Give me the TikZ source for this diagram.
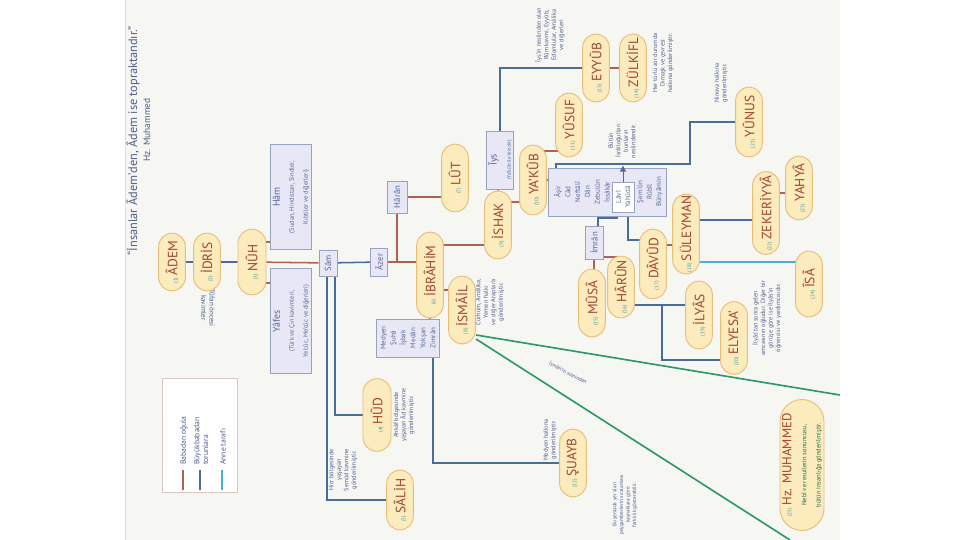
\documentclass[tikz,border=0pt]{standalone}
\usepackage{fontspec}
\setmainfont{PT Sans}
\usetikzlibrary{calc,shapes.misc,arrows.meta}

\definecolor{kagitrenk}{HTML}{F6F6F3}
\definecolor{pillic}{HTML}{FCEBBC}
\definecolor{pillkenar}{HTML}{E9BE78}
\definecolor{isimrenk}{HTML}{A0432F}
\definecolor{numrenk}{HTML}{3A9CA0}
\definecolor{kutuic}{HTML}{E7E7F5}
\definecolor{kutukenar}{HTML}{97A1C0}
\definecolor{kutuyazi}{HTML}{5A6A9C}
\definecolor{notyazi}{HTML}{4D5D8C}
\definecolor{ogulrenk}{HTML}{B0614F}
\definecolor{torunrenk}{HTML}{4A6D98}
\definecolor{annerenk}{HTML}{45B2CE}
\definecolor{kamarenk}{HTML}{2F9868}
\definecolor{lejantkenar}{HTML}{D9C6C3}

\pgfdeclarelayer{kagit}
\pgfdeclarelayer{hatlar}
\pgfsetlayers{kagit,hatlar,main}

% peygamber sira numarasi
\newcommand{\pno}[1]{{\fontsize{4.5}{5}\selectfont\color{numrenk}(#1)}\hspace{2pt}}
\newcommand{\kucuk}{\fontsize{5.5}{6.6}\selectfont}
\newcommand{\orta}{\fontsize{8.5}{10}\selectfont}

\tikzset{
  peygamber/.style={rounded rectangle, draw=pillkenar, fill=pillic, line width=0.8pt,
    rotate=90, text=isimrenk, font=\fontsize{11.5}{12}\selectfont,
    minimum height=0.8cm, inner sep=1pt},
  boy/.style={minimum width=#1*0.03cm},
  kutu/.style={draw=kutukenar, fill=kutuic, line width=0.6pt, text=kutuyazi,
    align=center, inner sep=1.5pt},
  kavim/.style={kutu, rotate=90},
  notmetni/.style={text=notyazi, align=center, font=\fontsize{5.3}{6.4}\selectfont, inner sep=0pt},
  aciklama/.style={notmetni, rotate=90},
  oglu/.style={draw=ogulrenk, line width=1.3pt},
  torun/.style={draw=torunrenk, line width=1.3pt},
  anne/.style={draw=annerenk, line width=1.3pt},
  kama/.style={draw=kamarenk, line width=1.4pt}
}

\begin{document}
\begin{tikzpicture}[x=0.03cm, y=-0.03cm]
  \useasboundingbox (0,0) rectangle (960,540);

  % kagit zemini
  \begin{pgfonlayer}{kagit}
    \fill[kagitrenk] (125,0) rectangle (840,540);
    \draw[gray!25] (125,0) -- (125,540);
  \end{pgfonlayer}

  % baslik ve lejant
  \node[aciklama, font=\fontsize{10.5}{12}\selectfont] (baslik) at (133,141)
    {“İnsanlar Âdem'den, Âdem ise topraktandır.”};
  \node[aciklama, font=\fontsize{8}{10}\selectfont] (kaynak) at (147,130) {Hz. Muhammed};
  \node[notmetni, rotate=-90, font=\fontsize{6}{7}\selectfont] (tufan) at (208,308)
    {Tûfan öncesi\\kavimler};

  \node[draw=lejantkenar, fill=white, line width=0.6pt,
    minimum width=75*0.03cm, minimum height=114*0.03cm] (lejant) at (200,435) {};
  \draw[oglu] ($(lejant.south west)+(21,-22)$) -- ++(0,20);
  \draw[torun] ($(lejant.south west)+(38,-22)$) -- ++(0,20);
  \draw[anne] ($(lejant.south west)+(60,-22)$) -- ++(0,20);
  \node[aciklama, font=\fontsize{6.5}{7.5}\selectfont, anchor=west, align=left] (lejBaba) at (184,465) {Babadan oğula};
  \node[aciklama, font=\fontsize{6.5}{7.5}\selectfont, anchor=west, align=left] (lejTorun) at (201,465) {Büyükbabadan\\torunlara};
  \node[aciklama, font=\fontsize{6.5}{7.5}\selectfont, anchor=west, align=left] (lejAnne) at (223,465) {Anne tarafı};

  % peygamberler
  \node[peygamber, boy=60] (ADEM) at (172,262) {\pno{1}ÂDEM};
  \node[peygamber, boy=60] (IDRIS) at (207,262) {\pno{2}İDRİS};
  \node[peygamber, boy=68, minimum height=0.84cm] (NUH) at (252,262) {\pno{3}NÛH};
  \node[peygamber, boy=75, minimum height=0.84cm] (HUD) at (377,415) {\pno{4}HÛD};
  \node[peygamber, boy=62] (SALIH) at (400,500) {\pno{5}SÂLİH};
  \node[peygamber, boy=88] (IBRAHIM) at (430,275) {\pno{6}İBRÂHİM};
  \node[peygamber, boy=70] (LUT) at (455,178) {\pno{7}LÛT};
  \node[peygamber, boy=70] (ISMAIL) at (462,310) {\pno{8}İSMÂİL};
  \node[peygamber, boy=70] (ISHAK) at (498,225) {\pno{9}İSHAK};
  \node[peygamber, boy=72] (YAKUB) at (533,180) {\pno{10}YA'KÛB};
  \node[peygamber, boy=66] (YUSUF) at (569,125) {\pno{11}YÛSUF};
  \node[peygamber, boy=70] (SUAYB) at (573,463) {\pno{12}ŞUAYB};
  \node[peygamber, boy=70] (EYYUB) at (596,68) {\pno{13}EYYÛB};
  \node[peygamber, boy=70] (ZULKIFL) at (633,68) {\pno{14}ZÜLKİFL};
  \node[peygamber, boy=70] (MUSA) at (592,303) {\pno{15}MÛSÂ};
  \node[peygamber, boy=64] (HARUN) at (621,287) {\pno{16}HÂRÛN};
  \node[peygamber, boy=72] (DAVUD) at (653,264) {\pno{17}DÂVÛD};
  \node[peygamber, boy=82] (SULEYMAN) at (686,234) {\pno{18}SÜLEYMAN};
  \node[peygamber, boy=70] (ILYAS) at (699,315) {\pno{19}İLYÂS};
  \node[peygamber, boy=75] (ELYESA) at (734,338) {\pno{20}ELYESA'};
  \node[peygamber, boy=72] (YUNUS) at (749,122) {\pno{21}YÛNUS};
  \node[peygamber, boy=85] (ZEKERIYYA) at (766,213) {\pno{22}ZEKERİYYÂ};
  \node[peygamber, boy=66] (YAHYA) at (799,188) {\pno{23}YAHYÂ};
  \node[peygamber, boy=68] (ISA) at (809,284) {\pno{24}ÎSÂ};
  \node[peygamber, boy=112, minimum height=1.32cm, align=center] (MUHAMMED) at (802,465)
    {\pno{25}{\fontsize{11}{12}\selectfont Hz. MUHAMMED}\\[1pt]
     {\color{kamarenk!70!black}\kucuk Nebî ve resullerin sonuncusu,}\\
     {\color{kamarenk!70!black}\kucuk bütün insanlığa gönderilmiştir.}};

  % kavimler ve atalar
  \node[kavim, minimum width=105*0.03cm, minimum height=37*0.03cm] (HAM) at (291,197)
    {{\orta Hâm}\\{\kucuk (Sudan, Hindistan, Sindler,}\\{\kucuk Kıbtiler ve diğerleri)}};
  \node[kavim, minimum width=105*0.03cm, minimum height=37*0.03cm] (YAFES) at (291,321)
    {{\orta Yâfes}\\{\kucuk (Türk ve Çin kavimleri,}\\{\kucuk Ye'cûc, Me'cûc ve diğerleri)}};
  \node[kavim, minimum width=26*0.03cm, minimum height=18*0.03cm, font=\fontsize{7.5}{8}\selectfont] (SAM) at (328,263) {Sâm};
  \node[kavim, minimum width=28*0.03cm, minimum height=17*0.03cm, font=\fontsize{7.5}{8}\selectfont] (AZER) at (379,262) {Âzer};
  \node[kavim, minimum width=32*0.03cm, minimum height=20*0.03cm, font=\fontsize{7.5}{8}\selectfont] (HARAN) at (397,197) {Hârân};
  \node[kavim, minimum width=38*0.03cm, minimum height=63*0.03cm, font=\fontsize{6}{8.5}\selectfont] (MEDYEN) at (408,338)
    {Medyen\\Şuhâ\\İşbak\\Medân\\Yokşan\\Zimrân};
  \node[kavim, minimum width=58*0.03cm, minimum height=25*0.03cm] (IYS) at (500,160)
    {{\orta Îys}\\{\fontsize{4.5}{5}\selectfont (Ya'kûb ile ikizdir)}};
  \node[kavim, minimum width=33*0.03cm, minimum height=18*0.03cm, font=\fontsize{7.5}{8}\selectfont] (IMRAN) at (594,243) {İmrân};

  % Ya'kub'un ogullari
  \node[kutu, minimum width=118*0.03cm, minimum height=48*0.03cm] (KABILE) at (607,192) {};
  \node[aciklama, text=kutuyazi, font=\fontsize{6}{8.4}\selectfont] (kabileSol) at (582,192)
    {Âşir\\Câd\\Neftâlî\\Dân\\Zebulûn\\İssâkâr};
  \node[kavim, fill=white, minimum width=30*0.03cm, minimum height=22*0.03cm, font=\fontsize{6}{8}\selectfont] (LAVI) at (623,197)
    {Lâvî\\Yahûdâ};
  \node[aciklama, text=kutuyazi, font=\fontsize{6}{8}\selectfont] (kabileSag) at (650,192)
    {Şem'ûn\\Rûbîl\\Bünyâmin};
  \draw[torun, line width=0.8pt, -{Triangle[length=5pt, width=5pt]}] (LAVI.east) -- ++(0,-16);

  % aciklamalar
  \node[aciklama] (notHud) at (404,415) {Ahkâf bölgesinde\\yaşayan Âd kavmine\\gönderilmiştir.};
  \node[aciklama] (notSalih) at (343,470) {Hicr bölgesinde\\yaşayan\\Semûd kavmine\\gönderilmiştir.};
  \node[aciklama] (notSuayb) at (550,440) {Medyen halkına\\gönderilmiştir.};
  \node[aciklama] (notIsmail) at (490,302) {Cürhüm, Amâlika,\\Yemen halkı\\ve diğer Araplar'a\\gönderilmiştir.};
  \node[aciklama] (notIys) at (550,35) {Îys'in neslinden olan\\Rûm kavmi, Eyyûb,\\Edomlular, Amâlika\\ve diğerleri};
  \node[aciklama] (notZulkifl) at (663,63) {Her türlü zor durumda\\Dımaşk ve çevresi\\halkına gönderilmiştir.};
  \node[aciklama] (notYunus) at (721,83) {Ninova halkına\\gönderilmiştir.};
  \node[aciklama] (notLavi) at (622,141) {Bütün\\İsrâiloğulları\\bunların\\neslindendir.};
  \node[aciklama] (notElyesa) at (767,318) {İlyâs'tan sonra gelen\\amcasının oğludur. Diğer bir\\görüşe göre ise İlyâs'ın\\öğrencisi ve yardımcısıdır.};
  \node[aciklama, font=\fontsize{4.5}{5.6}\selectfont] (notAlt) at (625,505) {Bu şemada yer alan\\peygamberlerin sıralaması\\kaynaklara göre\\farklılık gösterebilir.};
  \node[notmetni, rotate=-28, font=\fontsize{4.5}{5}\selectfont] (notKama) at (568,373) {İsmâil'in soyundan};

  % serbest uclar
  \coordinate (yunusKose) at (690,164);
  \coordinate (yunusUc) at (556,164);
  \coordinate (kamaUst) at (840,395);
  \coordinate (kamaAlt) at (790,540);

  % soy hatlari
  \begin{pgfonlayer}{hatlar}
    \draw[torun] (ADEM) -- (IDRIS) -- (NUH);
    \draw[oglu] (NUH) -- (SAM);
    \draw[oglu] ($(NUH)+(0,-20)$) -| (HAM);
    \draw[oglu] ($(NUH)+(0,21)$) -| (YAFES);
    \draw[torun] (SAM) -- (AZER);
    \draw[torun] ($(SAM)+(7,0)$) |- (HUD);
    \draw[torun] ($(SAM)+(-1,0)$) |- (SALIH);
    \draw[oglu] (AZER) -- (AZER -| IBRAHIM);
    \draw[oglu] (AZER) -| (HARAN);
    \draw[oglu] (HARAN) -- (HARAN -| LUT);
    \draw[oglu] ($(IBRAHIM)+(0,-30)$) -| (ISHAK);
    \draw[oglu] ($(IBRAHIM)+(0,15)$) -| (ISMAIL);
    \draw[oglu] (IBRAHIM) -- (IBRAHIM |- MEDYEN);
    \draw[torun] ($(MEDYEN)+(25,0)$) |- (SUAYB);
    \draw[oglu] (ISHAK) -- (ISHAK |- IYS);
    \draw[oglu] ($(ISHAK)+(0,-23)$) -| (YAKUB);
    \draw[torun] (IYS) |- (EYYUB);
    \draw[oglu] (EYYUB) -- (ZULKIFL);
    \draw[oglu] ($(YAKUB)+(0,-29)$) -| (YUSUF);
    \draw[oglu] (YAKUB) -- (YAKUB -| KABILE);
    \draw[torun] ($(LAVI)+(-6,0)$) |- ($(IMRAN)+(4,-25)$) -- ($(IMRAN)+(4,0)$);
    \draw[torun] ($(LAVI)+(5,0)$) |- ($(DAVUD)+(0,-24)$);
    \draw[oglu] (IMRAN) -- (IMRAN |- MUSA);
    \draw[oglu] ($(IMRAN)+(0,14)$) -| ($(HARUN)+(-5,0)$);
    \draw[torun] ($(HARUN)+(0,18)$) -| (ILYAS);
    \draw[torun] ($(HARUN)+(41,18)$) |- ($(ELYESA)+(0,22)$);
    \draw[oglu] ($(DAVUD)+(0,-19)$) -| (SULEYMAN);
    \draw[torun] ($(SULEYMAN)+(0,-14)$) -| (ZEKERIYYA);
    \draw[anne] ($(SULEYMAN)+(0,28)$) -| (ISA);
    \draw[oglu] ($(ZEKERIYYA)+(0,-20)$) -| (YAHYA);
    \draw[torun] (YUNUS) -| (yunusKose) -- (yunusUc) -- ++(0,6);
    \draw[kama] ($(ISMAIL)+(14,25)$) -- (kamaUst);
    \draw[kama] ($(ISMAIL)+(14,29)$) -- (kamaAlt);
  \end{pgfonlayer}
\end{tikzpicture}
\end{document}
